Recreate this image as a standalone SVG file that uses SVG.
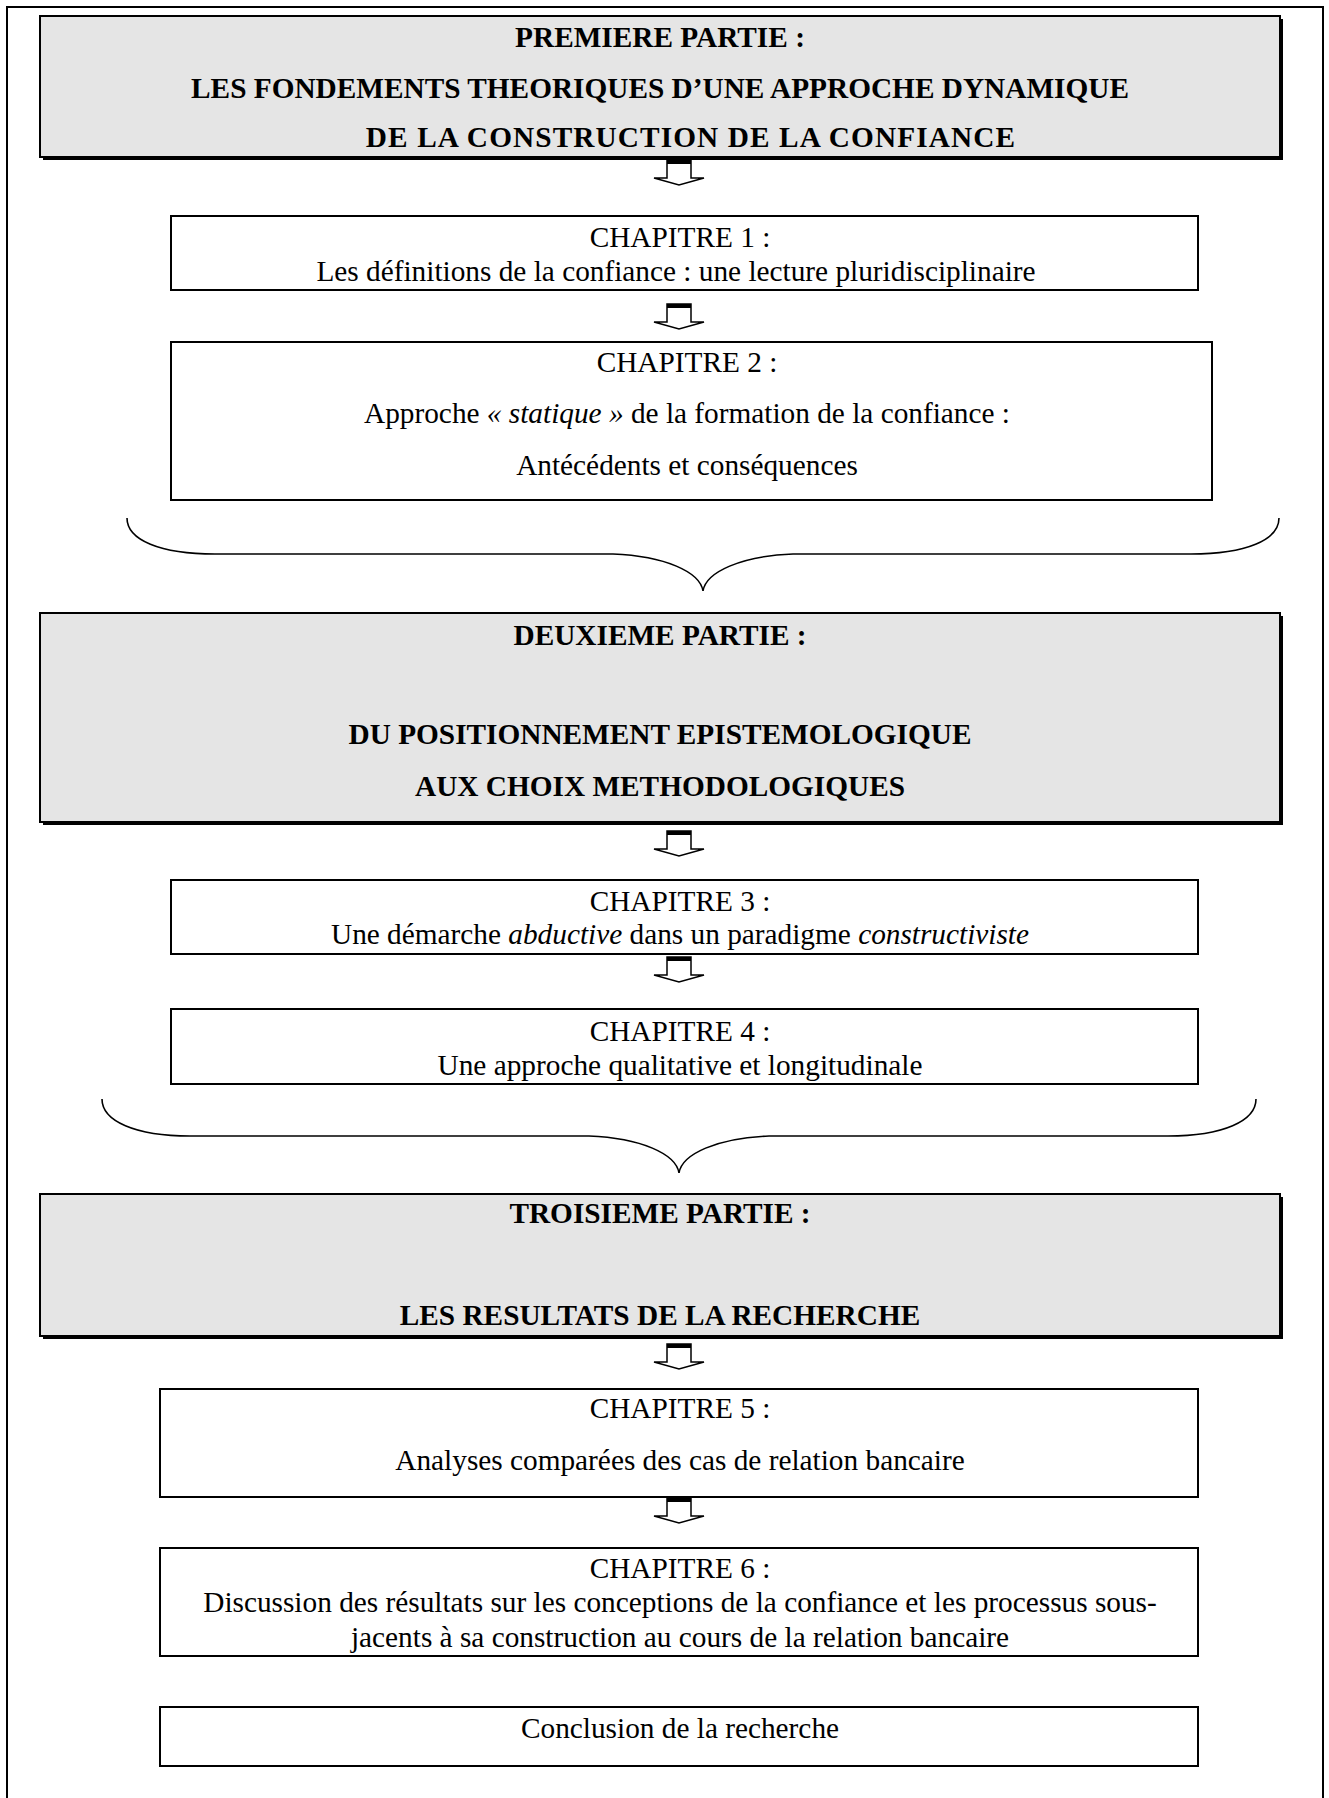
<svg xmlns="http://www.w3.org/2000/svg" xmlns:xlink="http://www.w3.org/1999/xlink" width="1329" height="1798" viewBox="0 0 1329 1798">
<style>
text{font-family:"Liberation Serif","Times New Roman",serif;font-size:29.3px;fill:#000;text-anchor:middle}
.b{font-weight:bold}
.i{font-style:italic}
.part{fill:#e5e5e5;stroke:#000;stroke-width:2}
.shadow{fill:#000}
.chap{fill:#fff;stroke:#000;stroke-width:2}
.brace{fill:none;stroke:#000;stroke-width:1.6}
.frame{fill:none;stroke:#000;stroke-width:2}
</style>
<defs>
<g id="arr">
<path d="M-12,0 H12 V18 H25 L0,25 L-25,18 H-12 Z" fill="#fff" stroke="#000" stroke-width="1.5" stroke-linejoin="miter"/>
<rect x="-12" y="0" width="24" height="4" fill="#000"/>
</g>
</defs>
<rect class="frame" x="7" y="7" width="1316" height="1810"/>

<g id="part1">
<rect class="shadow" x="43" y="19" width="1240" height="141"/>
<rect class="part" x="40" y="16" width="1240" height="141"/>
<text class="b" x="660" y="47">PREMIERE PARTIE :</text>
<text class="b" x="660" y="98">LES FONDEMENTS THEORIQUES D’UNE APPROCHE DYNAMIQUE</text>
<text class="b" x="691" y="147" letter-spacing="1.1">DE LA CONSTRUCTION DE LA CONFIANCE</text>
</g>

<g id="ch1">
<rect class="chap" x="171" y="216" width="1027" height="74"/>
<text x="680" y="247">CHAPITRE 1 :</text>
<text x="676" y="281">Les définitions de la confiance : une lecture pluridisciplinaire</text>
</g>

<g id="ch2">
<rect class="chap" x="171" y="342" width="1041" height="158"/>
<text x="687" y="372">CHAPITRE 2 :</text>
<text x="687" y="423">Approche <tspan class="i">« statique »</tspan> de la formation de la confiance :</text>
<text x="687" y="475">Antécédents et conséquences</text>
</g>

<g id="part2">
<rect class="shadow" x="43" y="616" width="1240" height="209"/>
<rect class="part" x="40" y="613" width="1240" height="209"/>
<text class="b" x="660" y="645">DEUXIEME PARTIE :</text>
<text class="b" x="660" y="744">DU POSITIONNEMENT EPISTEMOLOGIQUE</text>
<text class="b" x="660" y="796">AUX CHOIX METHODOLOGIQUES</text>
</g>

<g id="ch3">
<rect class="chap" x="171" y="880" width="1027" height="74"/>
<text x="680" y="911">CHAPITRE 3 :</text>
<text x="680" y="944">Une démarche <tspan class="i">abductive</tspan> dans un paradigme <tspan class="i">constructiviste</tspan></text>
</g>

<g id="ch4">
<rect class="chap" x="171" y="1009" width="1027" height="75"/>
<text x="680" y="1041">CHAPITRE 4 :</text>
<text x="680" y="1075">Une approche qualitative et longitudinale</text>
</g>

<g id="part3">
<rect class="shadow" x="43" y="1197" width="1240" height="142"/>
<rect class="part" x="40" y="1194" width="1240" height="142"/>
<text class="b" x="660" y="1223">TROISIEME PARTIE :</text>
<text class="b" x="660" y="1325">LES RESULTATS DE LA RECHERCHE</text>
</g>

<g id="ch5">
<rect class="chap" x="160" y="1389" width="1038" height="108"/>
<text x="680" y="1418">CHAPITRE 5 :</text>
<text x="680" y="1470">Analyses comparées des cas de relation bancaire</text>
</g>

<g id="ch6">
<rect class="chap" x="160" y="1548" width="1038" height="108"/>
<text x="680" y="1578">CHAPITRE 6 :</text>
<text x="680" y="1612">Discussion des résultats sur les conceptions de la confiance et les processus sous-</text>
<text x="680" y="1647">jacents à sa construction au cours de la relation bancaire</text>
</g>

<g id="conclusion">
<rect class="chap" x="160" y="1707" width="1038" height="59"/>
<text x="680" y="1738">Conclusion de la recherche</text>
</g>

<g id="connectors">
<use xlink:href="#arr" x="679" y="160"/>
<use xlink:href="#arr" x="679" y="304"/>
<use xlink:href="#arr" x="679" y="831"/>
<use xlink:href="#arr" x="679" y="957"/>
<use xlink:href="#arr" x="679" y="1344"/>
<use xlink:href="#arr" x="679" y="1498"/>
<path class="brace" d="M127,518 C127,540 160,554 215,554 L613,554 C665,556 700,572 703,591 C706,572 741,556 793,554 L1191,554 C1246,554 1279,540 1279,518"/>
<path class="brace" d="M102,1099 C102,1121 135,1136 190,1136 L589,1136 C641,1138 676,1154 679,1173 C682,1154 717,1138 769,1136 L1168,1136 C1223,1136 1256,1121 1256,1099"/>
</g>
</svg>
